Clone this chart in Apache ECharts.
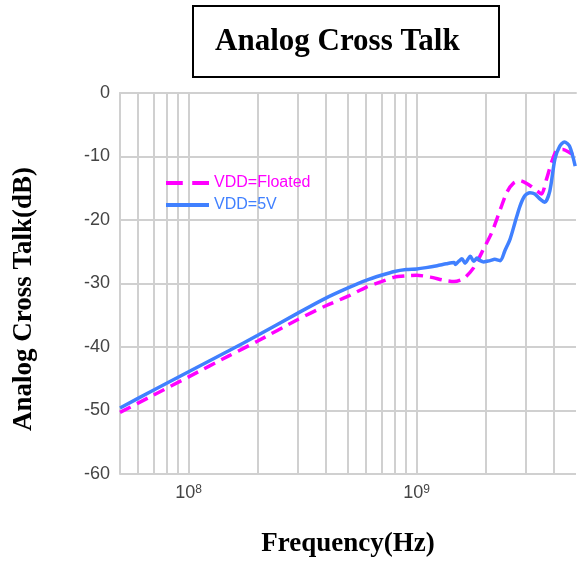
<!DOCTYPE html>
<html>
<head>
<meta charset="utf-8">
<script src="https://cdn.jsdelivr.net/npm/echarts@6/dist/echarts.min.js"></script>
<style>
html, body { margin: 0; padding: 0; background: #fff; }
#chart { width: 579px; height: 563px; }
</style>
</head>
<body>
<div id="chart"></div>
<script>
// values: frequency in Hz, cross talk in dB
var floatedFreq = [5e7, 7e7, 1e8, 1.5e8, 2e8, 3e8, 4e8, 5e8, 6e8, 7e8, 8e8, 9e8, 1e9,
    1.15e9, 1.32e9, 1.46e9, 1.61e9, 1.78e9, 1.97e9, 2.14e9, 2.33e9, 2.49e9, 2.66e9,
    2.84e9, 3.09e9, 3.36e9, 3.53e9, 3.71e9, 3.9e9, 4.1e9, 4.39e9, 4.69e9, 4.96e9];
var floatedDb = [-50.3, -47.6, -44.7, -41.4, -39.1, -35.7, -33.5, -32.0, -30.6, -29.7, -29.0, -28.8, -28.7,
    -29.0, -29.5, -29.7, -29.2, -27.5, -24.5, -21.9, -18.3, -15.6, -14.2,
    -13.8, -14.4, -15.4, -15.9, -13.6, -11.0, -9.1, -8.9, -9.4, -9.9];

var vdd5Freq = [5e7, 7e7, 1e8, 1.5e8, 2e8, 3e8, 4e8, 5e8, 6e8, 7e8, 8e8, 9e8, 1e9,
    1.1e9, 1.23e9, 1.35e9, 1.46e9, 1.48e9, 1.53e9, 1.58e9, 1.63e9, 1.72e9, 1.78e9, 1.84e9,
    1.9e9, 1.97e9, 2.03e9, 2.1e9, 2.2e9, 2.33e9, 2.44e9, 2.57e9, 2.7e9, 2.84e9, 2.98e9,
    3.14e9, 3.3e9, 3.48e9, 3.65e9, 3.84e9, 4.04e9, 4.24e9, 4.45e9, 4.69e9, 4.96e9];
var vdd5Db = [-49.6, -46.8, -43.9, -40.6, -38.2, -34.7, -32.3, -30.7, -29.5, -28.7, -28.1, -27.8, -27.7,
    -27.5, -27.2, -26.9, -26.7, -27.0, -26.5, -26.1, -26.8, -25.7, -26.5, -26.0,
    -26.4, -26.6, -26.5, -26.4, -26.2, -26.4, -24.8, -23.0, -20.4, -17.8, -16.2,
    -15.7, -15.9, -16.7, -17.2, -15.4, -10.4, -8.4, -7.7, -8.4, -11.5];

// vertical grid lines (log decades 1..9)
var gridFreqs = [6e7, 7e7, 8e7, 9e7, 1e8, 2e8, 3e8, 4e8, 5e8, 6e8, 7e8, 8e8, 9e8,
    1e9, 2e9, 3e9, 4e9];
var xLabelPowers = [8, 9];

function pairs(xs, ys) {
    return xs.map(function (x, i) { return [x, ys[i]]; });
}

var myChart = echarts.init(document.getElementById('chart'));

var option = {
    animation: false,
    title: {
        text: 'Analog Cross Talk',
        left: 193,
        top: 6,
        padding: [20, 40, 20, 22],
        borderColor: '#000',
        borderWidth: 2,
        textStyle: {
            fontFamily: 'Liberation Serif',
            fontWeight: 'bold',
            fontSize: 31,
            color: '#000'
        }
    },
    legend: {
        orient: 'vertical',
        left: 161,
        top: 170,
        itemWidth: 43,
        itemHeight: 4,
        itemGap: 6,
        symbolKeepAspect: false,
        textStyle: { fontFamily: 'Liberation Sans', fontSize: 16, lineHeight: 16 },
        data: [
            { name: 'VDD=Floated', icon: 'path://M0,0h16v4h-16z M25,0h16v4h-16z', textStyle: { color: '#ff00ff' } },
            { name: 'VDD=5V', icon: 'path://M0,0h43v4h-43z', textStyle: { color: '#4080ff' } }
        ]
    },
    grid: {
        left: 120,
        right: 0,
        top: 93,
        bottom: 87
    },
    xAxis: {
        type: 'log',
        logBase: 10,
        min: 5e7,
        max: 5e9,
        name: 'Frequency(Hz)',
        nameLocation: 'middle',
        nameGap: 57,
        nameTextStyle: {
            fontFamily: 'Liberation Serif',
            fontWeight: 'bold',
            fontSize: 27,
            color: '#000'
        },
        axisLine: { lineStyle: { color: '#d0d0d0', width: 2 } },
        axisTick: { show: false },
        splitLine: { show: false },
        axisLabel: {
            margin: 10,
            formatter: function (v) {
                var p = Math.round(Math.log10(v));
                if (Math.abs(Math.log10(v) - p) > 1e-6 || xLabelPowers.indexOf(p) < 0) return '';
                return '{b|10}{s|' + p + '}';
            },
            rich: {
                b: { fontFamily: 'Liberation Sans', fontSize: 18, color: '#444' },
                s: { fontFamily: 'Liberation Sans', fontSize: 12, color: '#444', verticalAlign: 'top', lineHeight: 12 }
            }
        }
    },
    yAxis: {
        type: 'value',
        min: -60,
        max: 0,
        interval: 10,
        axisLine: { show: true, lineStyle: { color: '#d0d0d0', width: 2 } },
        axisTick: { show: false },
        splitLine: { lineStyle: { color: '#d0d0d0', width: 2 } },
        axisLabel: {
            margin: 10,
            fontFamily: 'Liberation Sans',
            fontSize: 18,
            color: '#444'
        }
    },
    graphic: [{
        type: 'text',
        x: 24,
        y: 299,
        rotation: Math.PI / 2,
        style: {
            text: 'Analog Cross Talk(dB)',
            fontFamily: 'Liberation Serif',
            fontWeight: 'bold',
            fontSize: 27,
            fill: '#000',
            align: 'center',
            verticalAlign: 'middle'
        }
    }],
    series: [
        {
            name: 'VDD=Floated',
            type: 'line',
            symbol: 'none',
            smooth: 0.25,
            z: 3,
            data: pairs(floatedFreq, floatedDb),
            lineStyle: { color: '#ff00ff', width: 3.5, type: [12, 7] },
            itemStyle: { color: '#ff00ff' },
            markLine: {
                z: 1,
                silent: true,
                symbol: ['none', 'none'],
                label: { show: false },
                lineStyle: { color: '#d0d0d0', width: 2, type: 'solid' },
                data: gridFreqs.map(function (f) { return { xAxis: f }; })
            }
        },
        {
            name: 'VDD=5V',
            type: 'line',
            symbol: 'none',
            smooth: 0.25,
            z: 4,
            data: pairs(vdd5Freq, vdd5Db),
            lineStyle: { color: '#4080ff', width: 3.5 },
            itemStyle: { color: '#4080ff' }
        }
    ]
};

myChart.setOption(option);
</script>
</body>
</html>
